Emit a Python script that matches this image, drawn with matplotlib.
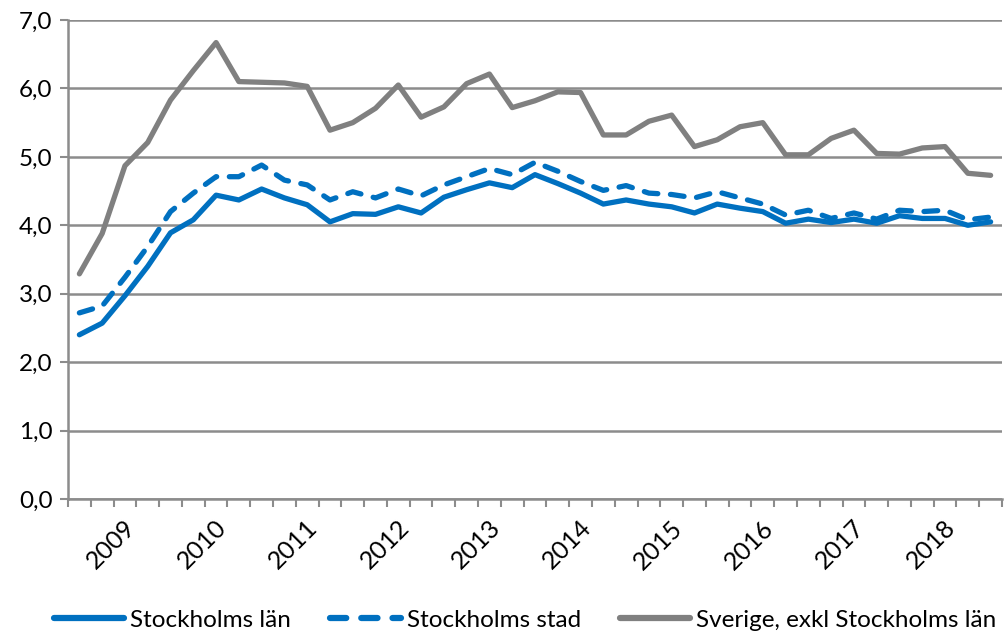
import matplotlib
matplotlib.use("Agg")
import matplotlib.pyplot as plt
import matplotlib.transforms as mtransforms
import numpy as np

plt.rcParams['font.family'] = ['Lato', 'DejaVu Sans']

years = ["2009", "2010", "2011", "2012", "2013", "2014", "2015", "2016", "2017", "2018"]
year_label_pos = [2, 6, 10, 14, 18, 22, 26, 30, 34, 38]

stockholms_lan = [2.40, 2.57, 2.97, 3.40, 3.89, 4.08, 4.44, 4.37, 4.53, 4.40,
                  4.30, 4.05, 4.17, 4.16, 4.27, 4.18, 4.41, 4.52, 4.62, 4.55,
                  4.74, 4.61, 4.47, 4.31, 4.37, 4.31, 4.27, 4.18, 4.31, 4.25,
                  4.20, 4.03, 4.09, 4.04, 4.09, 4.03, 4.14, 4.10, 4.10, 4.00,
                  4.05]
stockholms_stad = [2.72, 2.82, 3.24, 3.69, 4.20, 4.47, 4.71, 4.71, 4.88, 4.66,
                   4.59, 4.37, 4.49, 4.40, 4.53, 4.43, 4.59, 4.71, 4.83, 4.74,
                   4.92, 4.79, 4.64, 4.51, 4.58, 4.47, 4.45, 4.40, 4.49, 4.40,
                   4.31, 4.15, 4.22, 4.10, 4.18, 4.09, 4.22, 4.20, 4.22, 4.08,
                   4.12]
sverige_exkl = [3.29, 3.88, 4.87, 5.21, 5.83, 6.26, 6.67, 6.10, 6.09, 6.08,
                6.03, 5.39, 5.50, 5.71, 6.05, 5.58, 5.73, 6.07, 6.21, 5.72,
                5.82, 5.95, 5.94, 5.32, 5.32, 5.52, 5.61, 5.15, 5.25, 5.44,
                5.50, 5.03, 5.03, 5.27, 5.39, 5.05, 5.04, 5.13, 5.15, 4.76,
                4.73]
series_names = ["Stockholms län", "Stockholms stad", "Sverige, exkl Stockholms län"]
yticks = [0, 1, 2, 3, 4, 5, 6, 7]

blue = "#0070C0"
grey = "#808080"
axis_grey = "#8C8C8C"
fs = 17.5

fig = plt.figure(figsize=(10.06, 6.33), dpi=100)
ax = fig.add_axes([68/1006, 1 - 499/633, (1002-68)/1006, (499-20)/633])

x = np.arange(len(stockholms_lan))
lw = 3.8
ax.plot(x, stockholms_lan, color=blue, lw=lw, solid_capstyle='round', solid_joinstyle='round', label=series_names[0], zorder=4)
ax.plot(x, stockholms_stad, color=blue, lw=lw, dashes=(2.6, 2.4), dash_capstyle='round', dash_joinstyle='round', label=series_names[1], zorder=4)
ax.plot(x, sverige_exkl, color=grey, lw=lw, solid_capstyle='round', solid_joinstyle='round', label=series_names[2], zorder=3)

ax.set_xlim(-0.5, len(x) - 0.5)
ax.set_ylim(0, 7)
ax.set_yticks(yticks)
ax.set_yticklabels([f"{v:.1f}".replace(".", ",") for v in yticks], fontsize=fs)
ax.yaxis.grid(True, color=axis_grey, lw=1.8)
ax.set_axisbelow(True)

# category boundary tick marks
ax.set_xticks(np.arange(-0.5, len(x), 1))
ax.set_xticklabels([])
ax.tick_params(axis='x', length=6, width=1.5, color=axis_grey, direction='out')
ax.tick_params(axis='y', length=6, width=1.5, color=axis_grey, direction='out', pad=5)

# rotated year labels
offset = mtransforms.ScaledTranslation(15/100, -17/100, fig.dpi_scale_trans)
trans = ax.get_xaxis_transform() + offset
for pos, yr in zip(year_label_pos, years):
    ax.text(pos, 0, yr, transform=trans, rotation=45, ha='right', va='top',
            fontsize=18, rotation_mode='default', clip_on=False)

for s in ['top', 'right']:
    ax.spines[s].set_visible(False)
for s in ['left', 'bottom']:
    ax.spines[s].set_color(axis_grey)
    ax.spines[s].set_linewidth(1.8)

leg = fig.legend(loc='center', bbox_to_anchor=(0.522, 1 - 620/633), ncol=3, frameon=False,
                 fontsize=fs, handlelength=2.9, handletextpad=0.25, columnspacing=1.6)
for h in leg.get_lines():
    h.set_linewidth(4.5)

fig.savefig("out.png", dpi=100)
